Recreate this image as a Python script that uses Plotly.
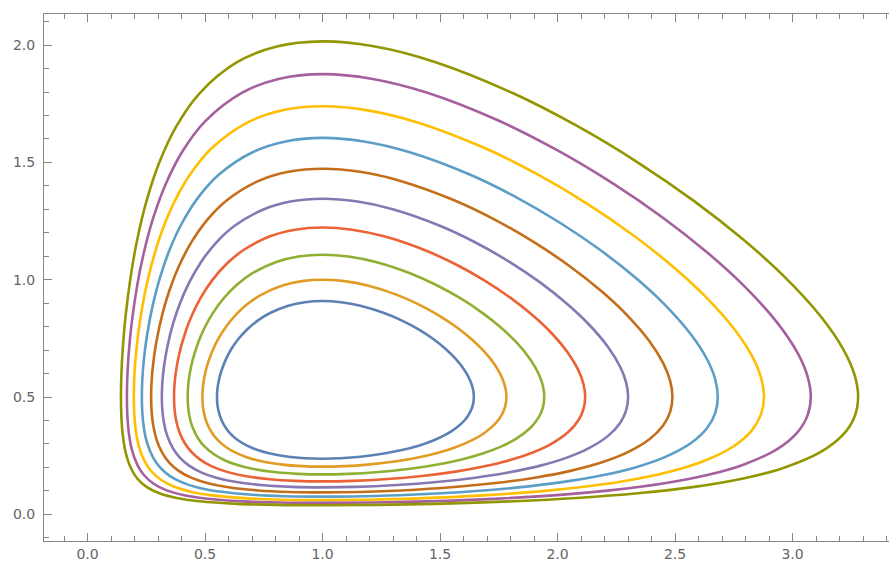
import plotly.graph_objects as go

# Ten closed orbits. For each orbit, index i runs
# from the top/bottom points (i=0) towards the left/right tips (last index).
# x_right/x_left pair with y_upper/y_lower at the same index.
x_right_1 = [1, 1.0786, 1.1612, 1.262, 1.3386, 1.409, 1.4713, 1.524, 1.5659, 1.606, 1.6288, 1.6403, 1.644]
x_left_1 = [1, 0.9253, 0.8545, 0.777, 0.7239, 0.679, 0.642, 0.612, 0.5903, 0.570, 0.5586, 0.5528, 0.551]
y_upper_1 = [0.909, 0.9041, 0.8892, 0.858, 0.8257, 0.788, 0.747, 0.7045, 0.6635, 0.612, 0.5693, 0.5339, 0.5]
y_lower_1 = [0.2371, 0.2391, 0.2453, 0.2588, 0.2738, 0.2924, 0.3146, 0.3396, 0.3659, 0.402, 0.4368, 0.4676, 0.5]

x_right_2 = [1, 1.0932, 1.192, 1.314, 1.4067, 1.4925, 1.5692, 1.6346, 1.686, 1.7353, 1.7639, 1.778, 1.7827]
x_left_2 = [1, 0.9122, 0.8298, 0.7405, 0.6804, 0.630, 0.5886, 0.5558, 0.5314, 0.5092, 0.4968, 0.4908, 0.4888]
y_upper_2 = [1.0, 0.9938, 0.9751, 0.9365, 0.896, 0.8493, 0.7985, 0.7463, 0.6962, 0.6344, 0.5825, 0.5401, 0.5]
y_lower_2 = [0.2031, 0.2052, 0.2119, 0.2262, 0.2425, 0.2628, 0.2871, 0.315, 0.3446, 0.3861, 0.4259, 0.4619, 0.5]

x_right_3 = [1, 1.1093, 1.2264, 1.3723, 1.4843, 1.5881, 1.6816, 1.7615, 1.8247, 1.8851, 1.9205, 1.9379, 1.9436]
x_left_3 = [1, 0.898, 0.8033, 0.702, 0.6346, 0.5788, 0.5334, 0.4978, 0.4715, 0.4478, 0.4345, 0.4284, 0.4263]
y_upper_3 = [1.1064, 1.0988, 1.0755, 1.0276, 0.9775, 0.92, 0.8577, 0.7941, 0.7335, 0.659, 0.5972, 0.5472, 0.5]
y_lower_3 = [0.1701, 0.1723, 0.179, 0.194, 0.211, 0.2327, 0.259, 0.2894, 0.3223, 0.3689, 0.414, 0.4556, 0.5]

x_right_4 = [1, 1.1261, 1.2621, 1.4338, 1.5662, 1.6901, 1.8019, 1.8979, 1.9739, 2.047, 2.0897, 2.1107, 2.1177]
x_left_4 = [1, 0.8835, 0.7767, 0.664, 0.5902, 0.5295, 0.4808, 0.443, 0.4154, 0.3906, 0.3769, 0.3703, 0.3682]
y_upper_4 = [1.2226, 1.2133, 1.1849, 1.1266, 1.0658, 0.9962, 0.9213, 0.8451, 0.7728, 0.6849, 0.6124, 0.5544, 0.5]
y_lower_4 = [0.1404, 0.1426, 0.1494, 0.1645, 0.1819, 0.2045, 0.2322, 0.2648, 0.3005, 0.3518, 0.4022, 0.4493, 0.5]

x_right_5 = [1, 1.143, 1.2989, 1.4968, 1.6509, 1.7957, 1.9271, 2.0401, 2.1299, 2.2165, 2.2671, 2.2921, 2.3004]
x_left_5 = [1, 0.8694, 0.7509, 0.6276, 0.5479, 0.4834, 0.4323, 0.3929, 0.3644, 0.3391, 0.3252, 0.3185, 0.3163]
y_upper_5 = [1.3454, 1.3342, 1.3003, 1.2308, 1.1585, 1.0759, 0.9875, 0.8978, 0.8134, 0.7113, 0.628, 0.5615, 0.5]
y_lower_5 = [0.1148, 0.1169, 0.1236, 0.1385, 0.156, 0.1789, 0.2075, 0.2417, 0.2797, 0.3354, 0.3907, 0.4434, 0.5]

x_right_6 = [1, 1.16, 1.3354, 1.5603, 1.7366, 1.9033, 2.055, 2.1861, 2.2905, 2.3912, 2.4502, 2.4794, 2.489]
x_left_6 = [1, 0.8556, 0.726, 0.5932, 0.5086, 0.441, 0.388, 0.3478, 0.3189, 0.2935, 0.2796, 0.2729, 0.2708]
y_upper_6 = [1.4731, 1.46, 1.4202, 1.3387, 1.2542, 1.158, 1.0553, 0.9517, 0.8546, 0.7379, 0.6435, 0.5687, 0.5]
y_lower_6 = [0.0933, 0.0953, 0.1016, 0.1161, 0.1333, 0.1561, 0.1852, 0.2205, 0.2605, 0.3197, 0.3796, 0.437, 0.5]

x_right_7 = [1, 1.1762, 1.3717, 1.6239, 1.8232, 2.0121, 2.185, 2.3347, 2.4541, 2.5697, 2.6375, 2.671, 2.6821]
x_left_7 = [1, 0.8423, 0.7024, 0.5609, 0.4721, 0.4022, 0.3481, 0.3075, 0.2787, 0.2535, 0.2398, 0.2334, 0.2313]
y_upper_7 = [1.6046, 1.5894, 1.5434, 1.4494, 1.3521, 1.2417, 1.1242, 1.0061, 0.896, 0.7644, 0.6587, 0.5758, 0.5]
y_lower_7 = [0.0753, 0.0772, 0.0832, 0.0969, 0.1136, 0.136, 0.1651, 0.2011, 0.2425, 0.305, 0.3691, 0.4314, 0.5]

x_right_8 = [1, 1.1924, 1.4075, 1.6875, 1.9098, 2.1219, 2.3163, 2.4853, 2.6203, 2.7511, 2.8279, 2.8659, 2.8785]
x_left_8 = [1, 0.8295, 0.6799, 0.5307, 0.4386, 0.3669, 0.3121, 0.2717, 0.2432, 0.2186, 0.2054, 0.1991, 0.1971]
y_upper_8 = [1.7392, 1.7219, 1.6695, 1.5624, 1.4518, 1.3267, 1.1939, 1.0609, 0.9375, 0.7908, 0.6738, 0.5827, 0.5]
y_lower_8 = [0.0606, 0.0623, 0.0678, 0.0807, 0.0965, 0.1184, 0.1472, 0.1835, 0.2258, 0.291, 0.359, 0.4258, 0.5]

x_right_9 = [1, 1.2082, 1.4431, 1.7507, 1.9965, 2.232, 2.4486, 2.6372, 2.7882, 2.9348, 3.021, 3.0636, 3.0777]
x_left_9 = [1, 0.8172, 0.6585, 0.5024, 0.4076, 0.3348, 0.28, 0.2399, 0.2121, 0.1883, 0.1756, 0.1696, 0.1677]
y_upper_9 = [1.8764, 1.8569, 1.7978, 1.6773, 1.553, 1.4126, 1.2642, 1.116, 0.979, 0.8171, 0.6888, 0.5894, 0.5]
y_lower_9 = [0.0485, 0.0501, 0.0551, 0.067, 0.0819, 0.1029, 0.1311, 0.1674, 0.2105, 0.2779, 0.3494, 0.4205, 0.5]

x_right_10 = [1, 1.2238, 1.4781, 1.8137, 2.0833, 2.3424, 2.5815, 2.7902, 2.9577, 3.1204, 3.2161, 3.2635, 3.2792]
x_left_10 = [1, 0.8053, 0.638, 0.476, 0.379, 0.3055, 0.251, 0.2117, 0.1848, 0.1619, 0.1499, 0.1442, 0.1424]
y_upper_10 = [2.0158, 1.994, 1.9281, 1.7937, 1.6553, 1.4994, 1.3348, 1.1712, 1.0204, 0.8431, 0.7035, 0.596, 0.5]
y_lower_10 = [0.0387, 0.0401, 0.0446, 0.0555, 0.0694, 0.0894, 0.1168, 0.1528, 0.1963, 0.2656, 0.3402, 0.4149, 0.5]

x_tick_vals = [0.0, 0.5, 1.0, 1.5, 2.0, 2.5, 3.0]
x_tick_text = ["0.0", "0.5", "1.0", "1.5", "2.0", "2.5", "3.0"]
y_tick_vals = [0.0, 0.5, 1.0, 1.5, 2.0]
y_tick_text = ["0.0", "0.5", "1.0", "1.5", "2.0"]

colors = ["#5E81B5", "#E19C24", "#8FB032", "#EB6235", "#8778B3",
          "#C56E1A", "#5D9EC7", "#FFBF00", "#A5609D", "#929600"]

orbits = [
    (x_right_1, x_left_1, y_upper_1, y_lower_1),
    (x_right_2, x_left_2, y_upper_2, y_lower_2),
    (x_right_3, x_left_3, y_upper_3, y_lower_3),
    (x_right_4, x_left_4, y_upper_4, y_lower_4),
    (x_right_5, x_left_5, y_upper_5, y_lower_5),
    (x_right_6, x_left_6, y_upper_6, y_lower_6),
    (x_right_7, x_left_7, y_upper_7, y_lower_7),
    (x_right_8, x_left_8, y_upper_8, y_lower_8),
    (x_right_9, x_left_9, y_upper_9, y_lower_9),
    (x_right_10, x_left_10, y_upper_10, y_lower_10),
]


def loop(xr, xl, yu, yl):
    n = len(xr)
    xs, ys = [], []
    for i in range(n):                 # top -> right tip (upper right)
        xs.append(xr[i]); ys.append(yu[i])
    for i in range(n - 2, -1, -1):     # right tip -> bottom (lower right)
        xs.append(xr[i]); ys.append(yl[i])
    for i in range(1, n):              # bottom -> left tip (lower left)
        xs.append(xl[i]); ys.append(yl[i])
    for i in range(n - 2, 0, -1):      # left tip -> top (upper left)
        xs.append(xl[i]); ys.append(yu[i])
    xs.append(xs[0]); ys.append(ys[0])
    return xs, ys


fig = go.Figure()
for (xr, xl, yu, yl), c in zip(orbits, colors):
    xs, ys = loop(xr, xl, yu, yl)
    fig.add_trace(go.Scatter(
        x=xs, y=ys, mode="lines",
        line=dict(color=c, width=2.6, shape="spline", smoothing=1, simplify=False),
        hoverinfo="skip", showlegend=False))

frame = "#858585"
tickfont = dict(family="DejaVu Sans", size=14, color="#646464")
common = dict(showgrid=False, zeroline=False, showline=True, linecolor=frame, linewidth=1,
              ticks="inside", ticklen=8, tickwidth=1, tickcolor=frame, tickfont=tickfont,
              tickmode="array", automargin=False,
              minor=dict(ticks="inside", ticklen=5, tickwidth=1, tickcolor=frame,
                         dtick=0.1, tick0=0, showgrid=False))

fig.update_layout(
    width=889, height=564,
    margin=dict(l=44, r=0, t=14, b=23, pad=0),
    paper_bgcolor="white", plot_bgcolor="white",
    xaxis=dict(range=[-0.1851, 3.4106], tickvals=x_tick_vals, ticktext=x_tick_text,
               mirror="ticks", ticklabelstandoff=0, **common),
    yaxis=dict(range=[-0.1138, 2.1326], tickvals=y_tick_vals, ticktext=y_tick_text,
               mirror=False, ticklabelstandoff=5, **common),
)

fig.write_html("out.html")
